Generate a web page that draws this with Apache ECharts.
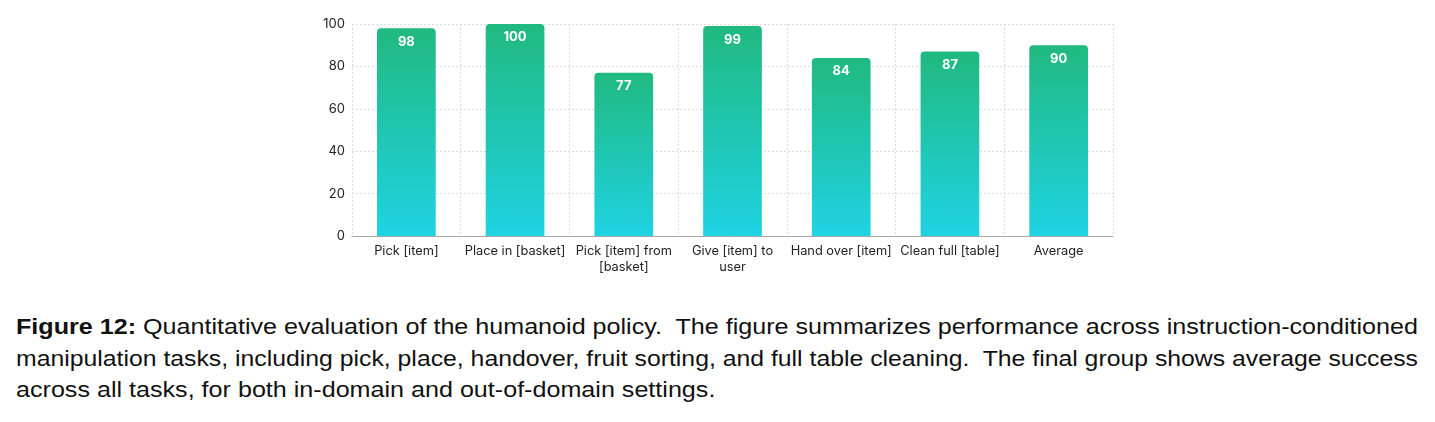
<!DOCTYPE html>
<html>
<head>
<meta charset="utf-8">
<script src="https://cdn.jsdelivr.net/npm/echarts@6/dist/echarts.min.js"></script>
<style>
  html, body { margin: 0; padding: 0; background: #fff; }
  #chart { position: absolute; left: 0; top: 0; width: 1435px; height: 290px; }
  #caption {
    position: absolute; left: 16px; top: 311px; width: 1403px;
    font-family: "Liberation Sans", Arial, sans-serif; font-size: 22px; line-height: 31.5px; color: #111;
  }
  #caption .ln { display: block; white-space: nowrap; transform-origin: 0 50%; width: max-content; }
</style>
</head>
<body>
<div id="chart"></div>
<div id="caption">
  <span class="ln"><b>Figure 12:</b> Quantitative evaluation of the humanoid policy.&nbsp; The figure summarizes performance across instruction-conditioned</span>
  <span class="ln">manipulation tasks, including pick, place, handover, fruit sorting, and full table cleaning.&nbsp; The final group shows average success</span>
  <span class="ln">across all tasks, for both in-domain and out-of-domain settings.</span>
</div>
<script>
// task names and success rates (%)
const categories = [
  'Pick [item]',
  'Place in [basket]',
  'Pick [item] from\n[basket]',
  'Give [item] to\nuser',
  'Hand over [item]',
  'Clean full [table]',
  'Average'
];
const successRates = [98, 100, 77, 99, 84, 87, 90];
const yTicks = [0, 20, 40, 60, 80, 100];

// fit the full caption lines to the text block width (like a justified paragraph)
const lines = document.querySelectorAll('#caption .ln');
const fit = l => 1402 / l.getBoundingClientRect().width;
const k1 = fit(lines[0]), k2 = fit(lines[1]);
lines[0].style.transform = 'scaleX(' + k1 + ')';
lines[1].style.transform = 'scaleX(' + k2 + ')';
lines[2].style.transform = 'scaleX(' + k1 + ')';

const chart = echarts.init(document.getElementById('chart'));

const gridLine = { show: true, lineStyle: { color: '#dcdcdc', type: [2, 2], width: 1 } };

chart.setOption({
  animation: false,
  grid: { left: 352, right: 322, top: 24, height: 212 },
  xAxis: {
    type: 'category',
    data: categories,
    axisTick: { show: false },
    axisLine: { lineStyle: { color: '#a8a8a8', width: 1 } },
    splitLine: gridLine,
    axisLabel: {
      interval: 0,
      margin: 7,
      color: '#222',
      fontFamily: 'Inter',
      fontSize: 12.8,
      lineHeight: 16
    }
  },
  yAxis: {
    type: 'value',
    min: yTicks[0],
    max: yTicks[yTicks.length - 1],
    interval: 20,
    axisLine: { show: false },
    axisTick: { show: false },
    splitLine: gridLine,
    axisLabel: { color: '#222', fontFamily: 'Inter', fontSize: 13, margin: 7 }
  },
  series: [{
    type: 'bar',
    data: successRates,
    barWidth: '54%',
    itemStyle: {
      borderRadius: [4, 4, 0, 0],
      color: new echarts.graphic.LinearGradient(0, 0, 0, 1, [
        { offset: 0, color: '#20b97f' },
        { offset: 1, color: '#1fd3e3' }
      ])
    },
    label: {
      show: true,
      position: 'insideTop',
      distance: 7,
      color: '#fff',
      fontFamily: 'Inter',
      fontWeight: 'bold',
      fontSize: 13
    }
  }]
});
</script>
</body>
</html>
